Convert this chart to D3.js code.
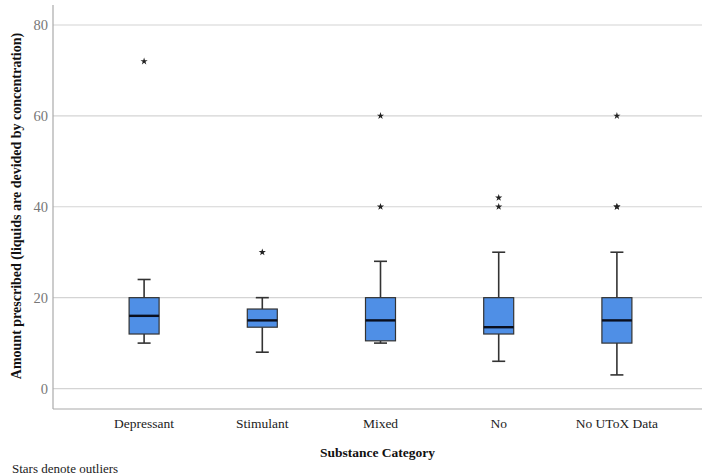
<!DOCTYPE html>
<html><head><meta charset="utf-8">
<script src="https://cdn.jsdelivr.net/npm/d3@7"></script>
<style>body{margin:0;background:#fff}svg{display:block}</style>
</head><body>
<script>
const categories = ["Depressant","Stimulant","Mixed","No","No UToX Data"];
const whiskerLow  = [10, 8, 10, 6, 3];
const q1          = [12, 13.5, 10.5, 12, 10];
const medians     = [16, 15, 15, 13.5, 15];
const q3          = [20, 17.5, 20, 20, 20];
const whiskerHigh = [24, 20, 28, 30, 30];
const outliers    = [[72],[30],[60,40],[42,40],[60,40,40]];
const yTicks      = [0,20,40,60,80];

(function(){
const W=702,H=476;
const svg=d3.select("body").append("svg").attr("width",W).attr("height",H);
const pL=53,pR=702,pT=5,pB=409;
const y=d3.scaleLinear().domain([-4.5,84.4]).range([pB,pT]);
const x=d3.scaleBand().domain(categories).range([85,676]).padding(0);
const serif="'Liberation Serif','Times New Roman',serif";

// gridlines
svg.append("g").selectAll("line").data(yTicks).join("line")
  .attr("x1",pL).attr("x2",pR).attr("y1",d=>y(d)).attr("y2",d=>y(d))
  .attr("stroke","#d4d4d4").attr("stroke-width",1.2);

// axes frame
svg.append("line").attr("x1",pL).attr("x2",pL).attr("y1",pT).attr("y2",pB).attr("stroke","#aaa").attr("stroke-width",1.2);
svg.append("line").attr("x1",pL).attr("x2",pR).attr("y1",pB).attr("y2",pB).attr("stroke","#aaa").attr("stroke-width",1.2);

// y tick labels
svg.append("g").selectAll("text").data(yTicks).join("text")
  .attr("x",48).attr("y",d=>y(d)).attr("dy","0.35em").attr("text-anchor","end")
  .attr("font-family",serif).attr("font-size",14.5).attr("fill","#777").text(d=>d);

// x tick labels
svg.append("g").selectAll("text").data(categories).join("text")
  .attr("x",d=>x(d)+x.bandwidth()/2).attr("y",428).attr("text-anchor","middle")
  .attr("font-family",serif).attr("font-size",13.5).attr("fill","#222").text(d=>d);

// axis titles
svg.append("text").attr("x",(pL+pR)/2).attr("y",457).attr("text-anchor","middle")
  .attr("font-family",serif).attr("font-size",13.5).attr("font-weight","bold").attr("fill","#111").text("Substance Category");
svg.append("text").attr("transform","translate(21,206) rotate(-90)").attr("text-anchor","middle")
  .attr("font-family",serif).attr("font-size",14).attr("font-weight","bold").attr("fill","#111")
  .text("Amount prescribed (liquids are devided by concentration)");
svg.append("text").attr("x",12).attr("y",473).attr("font-family",serif).attr("font-size",13).attr("fill","#222").text("Stars denote outliers");

const bw=30, cap=13;
const g=svg.append("g").selectAll("g").data(categories).join("g")
  .attr("transform",d=>`translate(${x(d)+x.bandwidth()/2},0)`);
// whiskers
g.append("line").attr("x1",0).attr("x2",0).attr("y1",(d,i)=>y(whiskerHigh[i])).attr("y2",(d,i)=>y(q3[i])).attr("stroke","#333").attr("stroke-width",1.6);
g.append("line").attr("x1",0).attr("x2",0).attr("y1",(d,i)=>y(q1[i])).attr("y2",(d,i)=>y(whiskerLow[i])).attr("stroke","#333").attr("stroke-width",1.6);
g.append("line").attr("x1",-cap/2).attr("x2",cap/2).attr("y1",(d,i)=>y(whiskerHigh[i])).attr("y2",(d,i)=>y(whiskerHigh[i])).attr("stroke","#333").attr("stroke-width",1.6);
g.append("line").attr("x1",-cap/2).attr("x2",cap/2).attr("y1",(d,i)=>y(whiskerLow[i])).attr("y2",(d,i)=>y(whiskerLow[i])).attr("stroke","#333").attr("stroke-width",1.6);
// boxes
g.append("rect").attr("x",-bw/2).attr("width",bw).attr("y",(d,i)=>y(q3[i])).attr("height",(d,i)=>y(q1[i])-y(q3[i]))
  .attr("fill","#4f8fe6").attr("stroke","#333").attr("stroke-width",1.2);
g.append("line").attr("x1",-bw/2).attr("x2",bw/2).attr("y1",(d,i)=>y(medians[i])).attr("y2",(d,i)=>y(medians[i])).attr("stroke","#0a0f1e").attr("stroke-width",2.4);
// outliers
const star=d3.symbol().type(d3.symbolStar).size(16);
g.each(function(d,i){
  d3.select(this).selectAll("path").data(outliers[i]).join("path")
    .attr("d",star).attr("transform",v=>`translate(0,${y(v)})`).attr("fill","#222");
});
})();
</script>
</body></html>
